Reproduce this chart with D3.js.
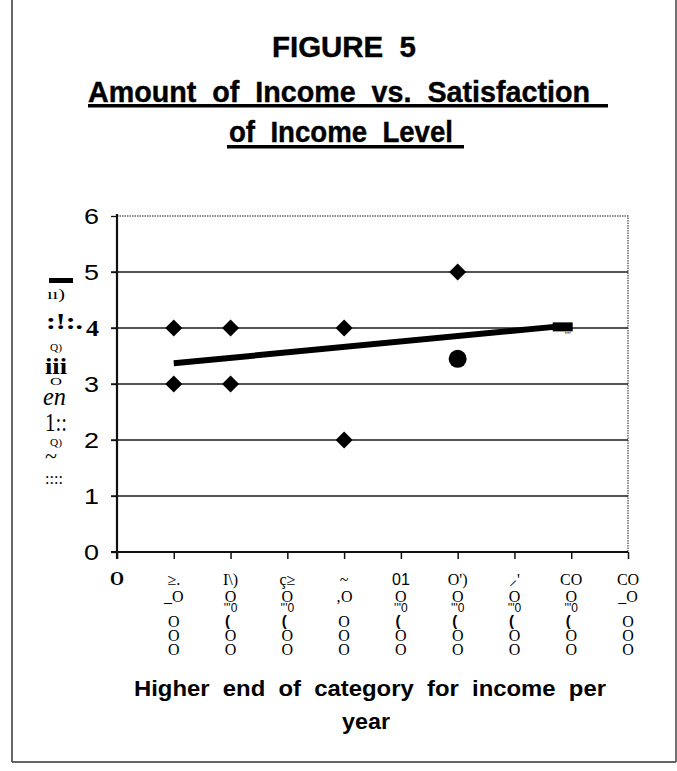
<!DOCTYPE html>
<html>
<head>
<meta charset="utf-8">
<script src="https://cdn.jsdelivr.net/npm/d3@7"></script>
<style>
  html, body { margin: 0; padding: 0; background: #fff; }
  svg { display: block; }
  text { white-space: pre; }
</style>
</head>
<body>
<svg id="chart" width="677" height="771"></svg>
<script>
// ---------------- data ----------------
const titleLines = ["FIGURE  5", "Amount  of  Income  vs.  Satisfaction", "of  Income  Level"];
const xTitleLines = ["Higher  end  of  category  for  income  per", "year"];
const yTicks = [0, 1, 2, 3, 4, 5, 6];
const yTickLabels = ["0", "1", "2", "3", "4", "5", "6"];
const xTicks = [0, 10000, 20000, 30000, 40000, 50000, 60000, 70000, 80000, 90000];
// garbled (scanned) vertical tick labels, one string per row slot
const xTickLabelRows = [
  ["O", "", "", "", "", "", ""],
  ["≥.", "_O", "", "", "O", "O", "O"],
  ["I\\)", "O", "'''0", "(", "", "O", "O"],
  ["ç≥", "O", "'''0", "(", "", "O", "O"],
  ["~", "‚O", "", "", "O", "O", "O"],
  ["01", "O", "'''0", "(", "", "O", "O"],
  ["O')", "O", "'''0", "(", "", "O", "O"],
  ["⸝'", "O", "'''0", "(", "", "O", "O"],
  ["CO", "O", "'''0", "(", "", "O", "O"],
  ["CO", "_O", "", "", "O", "O", "O"]
];
const yTitleGlyphs = ["ıı)", ":!:.", "Q)", "iii", "O", "en", "1::", "Q)", "~", "::::"];

const diamondX = [10000, 10000, 20000, 20000, 40000, 40000, 60000];
const diamondY = [4, 3, 4, 3, 4, 2, 5];
const circleX = [60000];
const circleY = [3.45];
const squareX = [78500];
const squareY = [4.02];
const trendX = [10000, 77000];
const trendY = [3.37, 4.02];

// ---------------- layout ----------------
const svg = d3.select("#chart");
const plot = { left: 117, right: 628, top: 216, bottom: 552 };
const x = d3.scaleLinear().domain([0, 90000]).range([plot.left, plot.right]);
const y = d3.scaleLinear().domain([0, 6]).range([plot.bottom, plot.top]);

const sans = "'Liberation Sans', Arial, Helvetica, sans-serif";
const serif = "'Liberation Serif', 'Times New Roman', serif";

// page frame
svg.append("line").attr("x1", 12).attr("x2", 12).attr("y1", 0).attr("y2", 762)
  .attr("stroke", "#333").attr("stroke-width", 1.5);
svg.append("line").attr("x1", 12).attr("x2", 676).attr("y1", 762).attr("y2", 762)
  .attr("stroke", "#333").attr("stroke-width", 1.5);
svg.append("line").attr("x1", 676).attr("x2", 676).attr("y1", 0).attr("y2", 762)
  .attr("stroke", "#444").attr("stroke-width", 1.5);

// titles
const titleSpec = [
  { x0: 272, x1: 416, base: 57, size: 29, ul: null },
  { x0: 88, x1: 590, base: 102, size: 29, ul: [88, 608, 104] },
  { x0: 229, x1: 453, base: 142, size: 29, ul: [227, 464, 145] }
];
titleLines.forEach((t, i) => {
  const s = titleSpec[i];
  svg.append("text").attr("x", s.x0).attr("y", s.base)
    .attr("font-family", sans).attr("font-weight", "bold").attr("font-size", s.size)
    .attr("textLength", s.x1 - s.x0).attr("lengthAdjust", "spacingAndGlyphs")
    .attr("stroke", "#000").attr("stroke-width", 0.4)
    .attr("fill", "#000").text(t);
  if (s.ul) {
    svg.append("rect").attr("x", s.ul[0]).attr("y", s.ul[2]).attr("width", s.ul[1] - s.ul[0])
      .attr("height", 3.5).attr("fill", "#000");
  }
});

// plot border (dotted grey top & right)
svg.append("path")
  .attr("d", `M${plot.left},${plot.top}H${plot.right}V${plot.bottom}`)
  .attr("fill", "none").attr("stroke", "#666").attr("stroke-width", 1.5)
  .attr("stroke-dasharray", "1.5,1");

// gridlines
svg.append("g").selectAll("line").data(yTicks.filter(v => v > 0 && v < 6)).join("line")
  .attr("x1", plot.left - 6).attr("x2", plot.right)
  .attr("y1", d => y(d)).attr("y2", d => y(d))
  .attr("stroke", "#1a1a1a").attr("stroke-width", 1.3);

// y axis
const yAxis = svg.append("g").attr("transform", `translate(${plot.left},0)`)
  .call(d3.axisLeft(y).tickValues(yTicks).tickSize(6).tickPadding(12)
    .tickFormat((d, i) => yTickLabels[i]));
yAxis.select(".domain").remove();
yAxis.selectAll(".tick line").attr("stroke", "#111").attr("stroke-width", 1.3);
yAxis.selectAll(".tick text")
  .attr("font-family", sans).attr("font-size", 22).attr("fill", "#000")
  .attr("textLength", 15).attr("lengthAdjust", "spacingAndGlyphs")
  .each(function (d) {
    if (d === 4) {
      d3.select(this).attr("font-family", serif).attr("font-weight", "bold")
        .attr("font-size", 24).attr("textLength", 13);
    }
  });

// x axis
const xAxis = svg.append("g").attr("transform", `translate(0,${plot.bottom})`)
  .call(d3.axisBottom(x).tickValues(xTicks).tickSize(7).tickFormat(""));
xAxis.select(".domain").remove();
xAxis.selectAll(".tick line").attr("stroke", "#111").attr("stroke-width", 1.5);

// axis lines
svg.append("line").attr("x1", plot.left).attr("x2", plot.left)
  .attr("y1", plot.top - 2).attr("y2", plot.bottom + 7)
  .attr("stroke", "#111").attr("stroke-width", 2.2);
svg.append("line").attr("x1", plot.left - 6).attr("x2", plot.right)
  .attr("y1", plot.bottom).attr("y2", plot.bottom)
  .attr("stroke", "#111").attr("stroke-width", 2.2);

// x tick labels (vertical stacks)
const rowY = [579, 596, 608, 620, 621, 635, 649];
const xl = svg.append("g");
xTicks.forEach((v, i) => {
  xTickLabelRows[i].forEach((t, r) => {
    if (!t) return;
    const isParen = t === "(";
    const isTick = t === "'''0";
    xl.append("text")
      .attr("x", x(v) + (isParen ? -3 : 0)).attr("y", rowY[r])
      .attr("text-anchor", "middle").attr("dominant-baseline", "central")
      .attr("font-family", (isParen || isTick || t === "01") ? sans : serif)
      .attr("font-weight", (i === 0 || isParen) ? "bold" : "normal")
      .attr("font-size", isParen ? 15 : (isTick ? 12 : (i === 0 ? 18 : 16)))
      .attr("fill", "#000").text(t);
  });
});

// x axis title
const xTitleSpec = [{ x0: 134, x1: 606, base: 696 }, { x0: 342, x1: 390, base: 729 }];
xTitleLines.forEach((t, i) => {
  const s = xTitleSpec[i];
  svg.append("text").attr("x", s.x0).attr("y", s.base)
    .attr("font-family", sans).attr("font-weight", "bold").attr("font-size", 22)
    .attr("textLength", s.x1 - s.x0).attr("lengthAdjust", "spacingAndGlyphs")
    .attr("fill", "#000").text(t);
});

// garbled y axis title (scanned vertical text)
svg.append("rect").attr("x", 49).attr("y", 278).attr("width", 24).attr("height", 5).attr("fill", "#000");
const yTitleSpec = [
  { x: 47, y: 299, size: 15, w: 18, style: "normal", weight: "normal" },
  { x: 46, y: 329, size: 24, w: 37, style: "normal", weight: "bold" },
  { x: 50, y: 351, size: 11, w: 12, style: "normal", weight: "normal" },
  { x: 45, y: 374, size: 24, w: 22, style: "normal", weight: "bold" },
  { x: 50, y: 385, size: 10, w: 12, style: "normal", weight: "normal" },
  { x: 43, y: 405, size: 26, w: 23, style: "italic", weight: "normal" },
  { x: 45, y: 431, size: 26, w: 22, style: "normal", weight: "normal" },
  { x: 50, y: 446, size: 11, w: 12, style: "normal", weight: "normal" },
  { x: 45, y: 463, size: 20, w: 12, style: "normal", weight: "normal" },
  { x: 45, y: 484, size: 17, w: 18, style: "normal", weight: "normal" }
];
yTitleGlyphs.forEach((t, i) => {
  const s = yTitleSpec[i];
  svg.append("text").attr("x", s.x).attr("y", s.y)
    .attr("font-family", serif).attr("font-size", s.size)
    .attr("font-style", s.style).attr("font-weight", s.weight)
    .attr("textLength", s.w).attr("lengthAdjust", "spacingAndGlyphs")
    .attr("fill", "#000").text(t);
});

// trend line
svg.append("path")
  .datum(trendX.map((v, i) => [v, trendY[i]]))
  .attr("d", d3.line().x(d => x(d[0])).y(d => y(d[1])))
  .attr("fill", "none").attr("stroke", "#000").attr("stroke-width", 6);

// diamonds
const diamondType = {
  draw(ctx, size) {
    const r = Math.sqrt(size / 2);
    ctx.moveTo(0, -r); ctx.lineTo(r, 0); ctx.lineTo(0, r); ctx.lineTo(-r, 0); ctx.closePath();
  }
};
svg.append("g").selectAll("path").data(diamondX.map((v, i) => [v, diamondY[i]])).join("path")
  .attr("transform", d => `translate(${x(d[0])},${y(d[1])})`)
  .attr("d", d3.symbol().type(diamondType).size(145))
  .attr("fill", "#000");

// circle
svg.append("g").selectAll("circle").data(circleX.map((v, i) => [v, circleY[i]])).join("circle")
  .attr("cx", d => x(d[0])).attr("cy", d => y(d[1])).attr("r", 9).attr("fill", "#000");

// square marker
const sq = svg.append("g").selectAll("g").data(squareX.map((v, i) => [v, squareY[i]])).join("g")
  .attr("transform", d => `translate(${x(d[0])},${y(d[1])})`);
sq.append("rect").attr("x", -10).attr("y", -4.5).attr("width", 20).attr("height", 9).attr("fill", "#000");
sq.append("text").attr("x", 5).attr("y", 11).attr("text-anchor", "middle")
  .attr("font-family", serif).attr("font-size", 8).attr("fill", "#000").text("''''");
</script>
</body>
</html>
